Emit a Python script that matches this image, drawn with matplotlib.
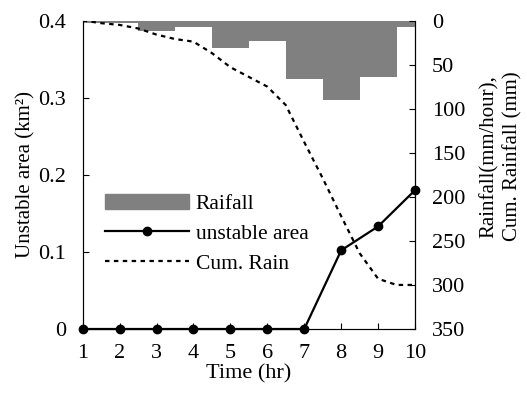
import matplotlib
matplotlib.use("Agg")
import matplotlib.pyplot as plt
from matplotlib.patches import Patch
from matplotlib.lines import Line2D

plt.rcParams['font.family'] = ['Liberation Serif', 'DejaVu Serif']
plt.rcParams['font.size'] = 15

hours = [1, 2, 3, 4, 5, 6, 7, 8, 9, 10]
rain = [3, 3, 11.5, 7, 31, 23, 66, 90, 64, 7.7]          # mm/hour
area = [0, 0, 0, 0, 0, 0, 0, 0.102, 0.133, 0.180]        # km2

# cumulative rainfall
cum_t = [1, 1.5, 2, 2.5, 3, 3.5, 4, 4.5, 5, 5.5, 6, 6.5, 7, 7.5, 8, 8.5, 9, 9.5, 10]
cum_mm = [0, 3, 5, 9, 16, 21, 24, 37, 53, 64, 75, 96, 138, 179, 222, 264, 293, 300, 300]

fig = plt.figure(figsize=(5.27, 4.0), dpi=100)
ax1 = fig.add_axes([0.157, 0.1775, 0.6305, 0.7712])
ax2 = ax1.twinx()

gray = '#808080'

# left axis: unstable area
ax1.plot(hours, area, color='black', lw=1.6, marker='o', ms=6, clip_on=False, zorder=5)
ax1.set_xlim(1, 10)
ax1.set_ylim(0, 0.4)
ax1.set_xticks(hours)
ax1.set_yticks([0, 0.1, 0.2, 0.3, 0.4])
ax1.set_yticklabels(['0', '0.1', '0.2', '0.3', '0.4'])
ax1.set_xlabel('Time (hr)', labelpad=1, fontsize=16)
ax1.set_ylabel('Unstable area (km²)', labelpad=2)
ax1.tick_params(axis='y', direction='in', length=4, pad=12, labelsize=16)
ax1.tick_params(axis='x', direction='in', length=4, pad=11, labelsize=16)

# right axis: rainfall (inverted)
ax2.bar(hours, rain, width=1.0, color=gray, align='center', zorder=1)
ax2.plot(cum_t, cum_mm, color='black', lw=1.6, ls=(0, (2, 2)), zorder=3)
ax2.set_ylim(350, 0)
ax2.set_yticks([0, 50, 100, 150, 200, 250, 300, 350])
ax2.tick_params(axis='y', direction='in', length=4, pad=12, labelsize=16)
ax2.set_ylabel('Rainfall(mm/hour),\nCum. Rainfall (mm)', rotation=90, linespacing=1.3)
ax2.yaxis.set_label_coords(1.195, 0.56)

for ax in (ax1, ax2):
    ax.spines['top'].set_visible(False)
ax1.spines['bottom'].set_color('#555555')

handles = [Patch(color=gray),
           Line2D([], [], color='black', lw=1.6, marker='o', ms=6),
           Line2D([], [], color='black', lw=1.6, ls=(0, (2, 2)))]
labels = ['Raifall', 'unstable area', 'Cum. Rain']
fig.legend(handles, labels, loc='upper left', bbox_to_anchor=(0.2, 0.515),
           frameon=False, handlelength=3.9, handletextpad=0.3,
           labelspacing=0.45, borderpad=0, borderaxespad=0, fontsize=15.5)

fig.savefig('out.png', dpi=100)
